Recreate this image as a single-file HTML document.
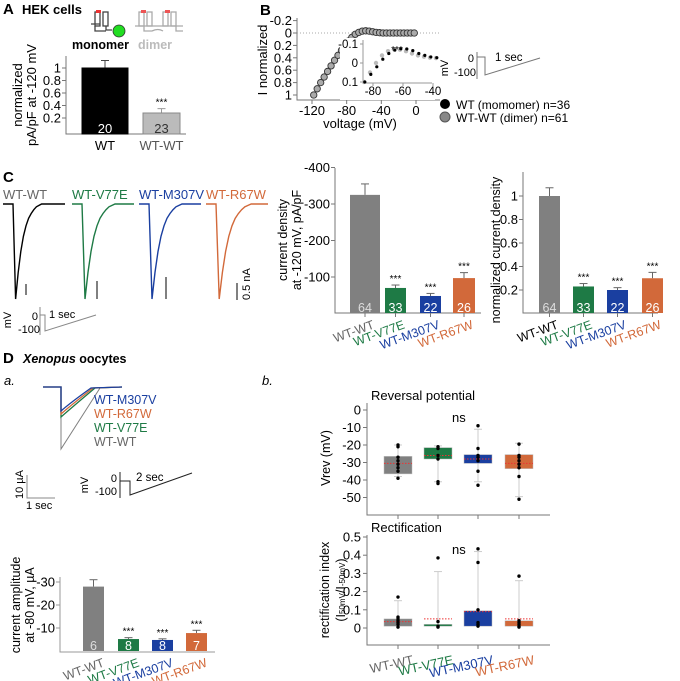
<!DOCTYPE html>
<html><head><meta charset="utf-8">
<style>
html,body{margin:0;padding:0;background:#fff;}
svg{display:block;font-family:"Liberation Sans",Arial,sans-serif;}
</style></head>
<body>
<svg id="fig" width="680" height="681" viewBox="0 0 680 681" xmlns="http://www.w3.org/2000/svg">
<text x="3" y="14" font-size="15" font-weight="bold">A</text>
<text x="22" y="14" font-size="13" font-weight="bold">HEK cells</text>
<text x="260" y="15" font-size="15" font-weight="bold">B</text>
<text x="3" y="182" font-size="15" font-weight="bold">C</text>
<text x="3" y="363" font-size="15" font-weight="bold">D</text>
<text x="23" y="363" font-size="12.5" font-weight="bold"><tspan font-style="italic">Xenopus</tspan> oocytes</text>
<text x="4" y="385" font-size="13" font-style="italic">a.</text>
<text x="262" y="385" font-size="13" font-style="italic">b.</text>

<g stroke="#444" fill="none" stroke-width="1.3">
  <rect x="95" y="12" width="5" height="14"/><rect x="103" y="12" width="5" height="14"/>
  <path d="M91 24 H100 M95 26 V31 H106 M106 26 V30 L112 30"/>
  <rect x="96" y="10" width="5" height="3" fill="#e33" stroke="none"/>
</g>
<circle cx="119" cy="31" r="6" fill="#22dd22" stroke="#333" stroke-width="0.8"/>
<g stroke="#aaa" fill="none" stroke-width="1.3">
  <rect x="139" y="12" width="5" height="14"/><rect x="147" y="12" width="5" height="14"/>
  <rect x="163" y="12" width="5" height="14"/><rect x="171" y="12" width="5" height="14"/>
  <path d="M135 26 H183 M144 26 V31 H152 M152 31 Q158 28 163 31 M176 26 V31 H183"/>
  <rect x="141" y="10" width="5" height="3" fill="#e55" stroke="none"/><rect x="165" y="10" width="5" height="3" fill="#e55" stroke="none"/>
</g>
<text x="72" y="49" font-size="12.5" font-weight="bold">monomer</text>
<text x="138" y="49" font-size="12.5" font-weight="bold" fill="#bbb">dimer</text>

<circle cx="445" cy="104" r="5" fill="#000"/>
<text x="456" y="109" font-size="12">WT (momomer) n=36</text>
<circle cx="445" cy="117" r="5" fill="#888" stroke="#555"/>
<text x="456" y="122" font-size="12">WT-WT (dimer) n=61</text>

<g>
<text x="448" y="68" font-size="11" transform="rotate(-90 448 68)" text-anchor="middle">mV</text>
<text x="474" y="62" font-size="11" text-anchor="end">0</text>
<text x="476" y="76" font-size="11" text-anchor="end">-100</text>
<path d="M477 52 V79 M477 57 H485 V75 L540 58" stroke="#777" fill="none"/>
<text x="495" y="61" font-size="11.5">1 sec</text>
</g>

<g>
<text x="11" y="320" font-size="11" transform="rotate(-90 11 320)" text-anchor="middle">mV</text>
<text x="38" y="320" font-size="11" text-anchor="end">0</text>
<text x="40" y="333" font-size="11" text-anchor="end">-100</text>
<path d="M40 307 V335 M40 315 H45 V331 L96 315" stroke="#888" fill="none"/>
<text x="49" y="318" font-size="11">1 sec</text>
</g>
<text x="250" y="300" font-size="11" transform="rotate(-90 250 300)">0.5 nA</text>
<path d="M237 283 V300" stroke="#000"/>

<g>
<text x="88" y="485" font-size="11" transform="rotate(-90 88 485)" text-anchor="middle">mV</text>
<text x="117" y="482" font-size="11" text-anchor="end">0</text>
<text x="117" y="495" font-size="11" text-anchor="end">-100</text>
<path d="M120 472 V498 M120 481 H130 V495 L192 473" stroke="#222" fill="none"/>
<text x="136" y="481" font-size="11.5">2 sec</text>
<path d="M27 475 V498 H55" stroke="#888" fill="none"/>
<text x="23" y="499" font-size="11" transform="rotate(-90 23 499)">10 µA</text>
<text x="26" y="509" font-size="11">1 sec</text>
</g>
</svg>
<script>
const svg=document.getElementById('fig');
const NS='http://www.w3.org/2000/svg';
function mk(tag,attrs,name,parent){
  const el=document.createElementNS(NS,tag);
  for(const k in attrs) el.setAttribute(k,attrs[k]);
  
  
  (parent||svg).appendChild(el);return el;
}
function txt(x,y,s,size,name,extra){const t=mk('text',Object.assign({x:x,y:y,'font-size':size},extra||{}),name);t.textContent=s;return t;}
const GREY='#808080',GREEN='#1e7a45',BLUE='#1a3fa0',ORANGE='#d2693a';

// ===== A data =====
const aCats=['WT','WT-WT'];
const aVals=[1.0,0.28];
const aErr=[0.12,0.07];
const aN=['20','23'];
const aTicks=[0.2,0.4,0.6,0.8,1];
// ===== B data =====
const bV=[-118,-114,-110,-106,-102,-98,-94,-90,-86,-82,-78,-74,-70,-66,-62,-58,-54,-50,-46,-42,-38,-34,-30,-26,-22,-18,-14,-10,-6,-2];
const bI=[1.0,0.9,0.8,0.71,0.62,0.53,0.44,0.36,0.28,0.2,0.13,0.07,0.02,-0.01,-0.03,-0.035,-0.03,-0.02,-0.01,-0.005,0,0,0,0,0,0,0,0,0,0];
const bYTicks=[-0.2,0,0.2,0.4,0.6,0.8,1];
const bXTicks=[-120,-80,-40,0];
const insV=[-86,-82,-78,-74,-70,-66,-62,-58,-54,-50,-46,-42,-38];
const insWT=[0.1,0.06,0.02,-0.02,-0.05,-0.068,-0.075,-0.074,-0.065,-0.05,-0.04,-0.032,-0.028];
const insDimer=[0.1,0.05,0.0,-0.04,-0.062,-0.072,-0.07,-0.062,-0.05,-0.04,-0.033,-0.028,-0.026];
const insXTicks=[-80,-60,-40];
const insYTicks=[-0.1,0,0.1];
// ===== C data =====
const cCats=['WT-WT','WT-V77E','WT-M307V','WT-R67W'];
const cColors=[GREY,GREEN,BLUE,ORANGE];
const cDensity=[-325,-70,-48,-97];
const cDensErr=[-30,-8,-7,-15];
const cNorm=[1.0,0.23,0.2,0.3];
const cNormErr=[0.07,0.025,0.02,0.05];
const cN=['64','33','22','26'];
const cDensTicks=[-100,-200,-300,-400];
const cNormTicks=[0.2,0.4,0.6,0.8,1];
const traceDecay=[0,1,0.72,0.5,0.34,0.23,0.15,0.1,0.06,0.03,0.015,0,0,0];
// ===== D data =====
const dAmp=[-28,-5.2,-4.8,-7.8];
const dAmpErr=[-3,-0.6,-0.5,-1.2];
const dN=['6','8','8','7'];
const dTicks=[-10,-20,-30];
const revQ1=[-26.5,-21.5,-25.5,-25.5];
const revQ3=[-36.5,-28,-30.5,-33.5];
const revMean=[-30.5,-26,-28,-30.5];
const revWhiskHi=[-20,-20.5,-11,-19];
const revWhiskLo=[-38,-41,-41,-49.5];
const revPts=[[-20,-21,-27,-29,-31,-33,-35,-39],[-21,-22,-26,-28,-41,-42],[-9,-22,-26,-27,-29,-35,-43],[-19.5,-26,-27,-29,-31,-33,-38,-51]];
const revTicks=[0,-10,-20,-30,-40,-50];
const recQ1=[0.05,0.02,0.095,0.04];
const recQ3=[0.01,0.01,0.01,0.01];
const recMean=[0.035,0.05,0.09,0.05];
const recWhiskHi=[0.15,0.31,0.42,0.26];
const recPts=[[0.005,0.02,0.03,0.04,0.05,0.06,0.17],[0.005,0.01,0.035,0.385],[0.01,0.02,0.03,0.1,0.36,0.435],[0.005,0.01,0.02,0.03,0.04,0.285]];
const recTicks=[0,0.1,0.2,0.3,0.4,0.5];

function lin(d0,d1,r0,r1){return v=>r0+(v-d0)*(r1-r0)/(d1-d0);}

// ===== Panel A =====
(function(){
  const y=lin(0,1,130.5,68);
  mk('path',{d:'M66 56 V134 H186',stroke:'#777',fill:'none'},'a-axes');
  aTicks.forEach(t=>{mk('line',{x1:62,x2:66,y1:y(t),y2:y(t),stroke:'#777'},'a-y-tick');
    txt(61,y(t)+4.5,String(t),13,'a-y-tick-label',{'text-anchor':'end'});});
  const xs=[[82,128],[143,180]];
  aVals.forEach((v,i)=>{
    const col=i==0?'#000':'#bbb';
    const cx=(xs[i][0]+xs[i][1])/2;
    mk('line',{x1:cx,x2:cx,y1:y(v),y2:y(v+aErr[i]),stroke:i==0?'#444':'#999'},'a-error-bar');
    mk('line',{x1:cx-4,x2:cx+4,y1:y(v+aErr[i]),y2:y(v+aErr[i]),stroke:i==0?'#444':'#999'},'a-error-cap');
    mk('rect',{x:xs[i][0],y:y(v),width:xs[i][1]-xs[i][0],height:134-y(v),fill:col,stroke:i==0?'#000':'#888'},'a-bar-'+aCats[i].toLowerCase());
    txt(cx,133,aN[i],13,'a-bar-n',{'text-anchor':'middle',fill:i==0?'#fff':'#333'});
    txt(cx,150,aCats[i],13,'a-x-label',{'text-anchor':'middle',fill:i==0?'#000':'#555'});
  });
  txt((xs[1][0]+xs[1][1])/2,y(aVals[1]+aErr[1])-3,'***',10,'a-signif',{'text-anchor':'middle'});
  txt(22,95,'normalized',13,'a-y-title-1',{transform:'rotate(-90 22 95)','text-anchor':'middle'});
  txt(36,95,'pA/pF at -120 mV',13,'a-y-title-2',{transform:'rotate(-90 36 95)','text-anchor':'middle'});
})();

// ===== Panel B =====
(function(){
  const x=lin(-120,0,312,416), y=lin(0,1,33,95);
  mk('path',{d:'M297 18 V100 H440',stroke:'#777',fill:'none'},'b-axes');
  mk('line',{x1:297,x2:440,y1:y(0),y2:y(0),stroke:'#aaa','stroke-dasharray':'1 2'},'b-zero-line');
  bYTicks.forEach(t=>{mk('line',{x1:293,x2:297,y1:y(t),y2:y(t),stroke:'#777'},'b-y-tick');
    txt(292,y(t)+4.5,t===0?'0':String(t),13,'b-y-tick-label',{'text-anchor':'end'});});
  bXTicks.forEach(t=>{mk('line',{x1:x(t),x2:x(t),y1:100,y2:104,stroke:'#777'},'b-x-tick');
    txt(x(t),115,String(t),13,'b-x-tick-label',{'text-anchor':'middle'});});
  txt(360,128,'voltage (mV)',13,'b-x-title',{'text-anchor':'middle'});
  txt(267,60,'I normalized',13,'b-y-title',{transform:'rotate(-90 267 60)','text-anchor':'middle'});
  bV.forEach((v,i)=>mk('circle',{cx:x(v),cy:y(bI[i]),r:3.2,fill:'#aaa',stroke:'#333','stroke-width':0.9},'b-iv-point'));
  const ix=lin(-80,-60,373,403), iy=lin(-0.1,0.1,44,82);
  mk('rect',{x:340,y:38,width:95,height:62,fill:'#fff'},'b-inset-bg');
  mk('path',{d:'M363 40 V83 H432',stroke:'#999',fill:'none'},'b-inset-axes');
  insYTicks.forEach(t=>{mk('line',{x1:360,x2:363,y1:iy(t),y2:iy(t),stroke:'#999'},'b-inset-y-tick');
    txt(358,iy(t)+4,String(t),11.5,'b-inset-y-label',{'text-anchor':'end'});});
  insXTicks.forEach(t=>{mk('line',{x1:ix(t),x2:ix(t),y1:83,y2:86,stroke:'#999'},'b-inset-x-tick');
    txt(ix(t),95,String(t),11.5,'b-inset-x-label',{'text-anchor':'middle'});});
  insV.forEach((v,i)=>mk('circle',{cx:ix(v),cy:iy(insDimer[i]),r:2.2,fill:'#bbb'},'b-inset-dimer-point'));
  insV.forEach((v,i)=>mk('circle',{cx:ix(v)+0.8,cy:iy(insWT[i]),r:1.6,fill:'#000'},'b-inset-wt-point'));
  txt(397,53,'***',10,'b-inset-signif',{'text-anchor':'middle'});
})();

// ===== Panel C traces =====
(function(){
  const x0=[3,72,139,206];
  cCats.forEach((c,i)=>{
    txt(x0[i],199,c,13,'c-trace-label',{fill:cColors[i]==GREY?'#666':cColors[i]});
    const base=204,peak=299, sx=x0[i]+10, step=[2.6,3.0,3.0,3.2][i];
    let d='M'+(x0[i])+' '+base+' H'+sx;
    traceDecay.forEach((a,k)=>{d+=' L'+(sx+k*step).toFixed(1)+' '+(base+a*(peak-base)).toFixed(1);});
    d+=' H'+(x0[i]+62);
    mk('path',{d:d,stroke:i==0?'#000':cColors[i],fill:'none','stroke-width':1.4},'c-trace-'+c.toLowerCase());
    const sb=[[26,284,295],[97,281,299],[166,277,299]][i];
    if(sb) mk('line',{x1:sb[0],x2:sb[0],y1:sb[1],y2:sb[2],stroke:'#000'},'c-scale-bar');
  });
})();

function rotLabels(xs,yTop,name,firstBlack){
  cCats.forEach((c,i)=>txt(xs[i]+14,yTop,c,12.5,name,{'text-anchor':'end',fill:i==0?(firstBlack?'#000':'#666'):cColors[i],transform:'rotate(-20 '+(xs[i]+14)+' '+yTop+')'}));
}
(function(){
  const y=lin(0,-100,313.5,277);
  mk('path',{d:'M335 168 V313 H481',stroke:'#777',fill:'none'},'c1-axes');
  cDensTicks.forEach(t=>{mk('line',{x1:331,x2:335,y1:y(t),y2:y(t),stroke:'#777'},'c1-y-tick');
    txt(330,y(t)+4.5,String(t),13,'c1-y-tick-label',{'text-anchor':'end'});});
  const xs=[350,385,420,453], w=[30,21,21,22];
  cDensity.forEach((v,i)=>{
    const cx=xs[i]+w[i]/2;
    mk('line',{x1:cx,x2:cx,y1:y(v),y2:y(v+cDensErr[i]),stroke:'#666'},'c1-error');
    mk('line',{x1:cx-4,x2:cx+4,y1:y(v+cDensErr[i]),y2:y(v+cDensErr[i]),stroke:'#666'},'c1-error-cap');
    mk('rect',{x:xs[i],y:y(v),width:w[i],height:313-y(v),fill:cColors[i]},'c1-bar-'+cCats[i].toLowerCase());
    mk('line',{x1:cx,x2:cx,y1:313,y2:317,stroke:'#777'},'c1-x-tick');
    txt(cx,312,cN[i],12.5,'c1-bar-n',{'text-anchor':'middle',fill:i==0?'#ddd':'#fff'});
    if(i>0) txt(cx,y(v+cDensErr[i])-3,'***',10,'c1-signif',{'text-anchor':'middle'});
  });
  rotLabels(xs.map((x,i)=>x+w[i]/2-4),328,'c1-x-label',false);
  txt(287,240,'current density',12.5,'c1-y-title-1',{transform:'rotate(-90 287 240)','text-anchor':'middle'});
  txt(301,240,'at -120 mV, pA/pF',12.5,'c1-y-title-2',{transform:'rotate(-90 301 240)','text-anchor':'middle'});
})();
(function(){
  const y=lin(0,1,313.5,196);
  mk('path',{d:'M523 172 V313 H658',stroke:'#777',fill:'none'},'c2-axes');
  cNormTicks.forEach(t=>{mk('line',{x1:519,x2:523,y1:y(t),y2:y(t),stroke:'#777'},'c2-y-tick');
    txt(518,y(t)+4.5,String(t),13,'c2-y-tick-label',{'text-anchor':'end'});});
  const bx=[539,573,607,642];
  cNorm.forEach((v,i)=>{
    const cx=bx[i]+10.5;
    mk('line',{x1:cx,x2:cx,y1:y(v),y2:y(v+cNormErr[i]),stroke:'#666'},'c2-error');
    mk('line',{x1:cx-4,x2:cx+4,y1:y(v+cNormErr[i]),y2:y(v+cNormErr[i]),stroke:'#666'},'c2-error-cap');
    mk('rect',{x:bx[i],y:y(v),width:21,height:313-y(v),fill:cColors[i]},'c2-bar-'+cCats[i].toLowerCase());
    mk('line',{x1:cx,x2:cx,y1:313,y2:317,stroke:'#777'},'c2-x-tick');
    txt(cx,312,cN[i],12.5,'c2-bar-n',{'text-anchor':'middle',fill:i==0?'#ddd':'#fff'});
    if(i>0) txt(cx,y(v+cNormErr[i])-3,'***',10,'c2-signif',{'text-anchor':'middle'});
  });
  rotLabels(bx.map(x=>x+6),328,'c2-x-label',true);
  txt(500,250,'normalized current density',12.5,'c2-y-title',{transform:'rotate(-90 500 250)','text-anchor':'middle'});
})();

// ===== D-a traces =====
(function(){
  const order=[[GREY,449,100],[GREEN,417,95],[ORANGE,414,93],[BLUE,411,91]];
  order.forEach((o,i)=>{
    const d=i==0?'M61 387 V'+o[1]+' L'+o[2]+' 388':'M43 387 H61 V'+o[1]+' Q70 '+(o[1]-8)+' '+o[2]+' 388 L122 387';
    mk('path',{d:d,stroke:o[0],fill:'none','stroke-width':i==0?1:1.3},'da-trace');
  });
  const labs=[['WT-M307V',BLUE,404],['WT-R67W',ORANGE,418],['WT-V77E',GREEN,432],['WT-WT','#666',446]];
  labs.forEach(l=>txt(94,l[2],l[0],12.5,'da-legend-entry',{fill:l[1]}));
})();

(function(){
  const y=lin(0,-10,651,628);
  mk('path',{d:'M60 577 V652 H215',stroke:'#999',fill:'none'},'da-axes');
  dTicks.forEach(t=>{mk('line',{x1:56,x2:60,y1:y(t),y2:y(t),stroke:'#999'},'da-y-tick');
    txt(55,y(t)+4.5,String(t),13,'da-y-tick-label',{'text-anchor':'end'});});
  const bx=[83,118,152,186];
  dAmp.forEach((v,i)=>{
    const cx=bx[i]+10.5;
    mk('line',{x1:cx,x2:cx,y1:y(v),y2:y(v+dAmpErr[i]),stroke:'#666'},'da-error');
    mk('line',{x1:cx-4,x2:cx+4,y1:y(v+dAmpErr[i]),y2:y(v+dAmpErr[i]),stroke:'#666'},'da-error-cap');
    mk('rect',{x:bx[i],y:y(v),width:21,height:651-y(v),fill:cColors[i]},'da-bar-'+cCats[i].toLowerCase());
    txt(cx,650,dN[i],12.5,'da-bar-n',{'text-anchor':'middle',fill:i==0?'#ddd':'#fff'});
    if(i>0) txt(cx,y(v+dAmpErr[i])-3,'***',10,'da-signif',{'text-anchor':'middle'});
  });
  cCats.forEach((c,i)=>txt(bx[i]+22,666,c,12.5,'da-x-label',{'text-anchor':'end',fill:i==0?'#666':cColors[i],transform:'rotate(-20 '+(bx[i]+22)+' 666)'}));
  txt(20,605,'current  amplitude',12.5,'da-y-title-1',{transform:'rotate(-90 20 605)','text-anchor':'middle'});
  txt(34,605,'at -80 mV, µA',12.5,'da-y-title-2',{transform:'rotate(-90 34 605)','text-anchor':'middle'});
})();

const bxC=[398,438,478,519];
function boxPlot(y,q1,q3,mean,wh,wl,pts,pre){
  bxC.forEach((cx,i)=>{
    const lo=wl?wl[i]:Math.min(q1[i],q3[i]);
    mk('line',{x1:cx,x2:cx,y1:y(wh[i]),y2:y(lo),stroke:'#ccc'},pre+'-whisker');
    mk('line',{x1:cx-4,x2:cx+4,y1:y(wh[i]),y2:y(wh[i]),stroke:'#ccc'},pre+'-whisker-cap');
    if(wl) mk('line',{x1:cx-4,x2:cx+4,y1:y(wl[i]),y2:y(wl[i]),stroke:'#ccc'},pre+'-whisker-cap');
    const top=Math.min(y(q1[i]),y(q3[i])), h=Math.max(Math.abs(y(q1[i])-y(q3[i])),1.5);
    mk('rect',{x:cx-14,y:top,width:28,height:h,fill:cColors[i],stroke:'#bbb','stroke-width':0.5},pre+'-box-'+cCats[i].toLowerCase());
    mk('line',{x1:cx-14,x2:cx+14,y1:y(mean[i]),y2:y(mean[i]),stroke:'#e33','stroke-dasharray':'1.5 1.5'},pre+'-mean');
    pts[i].forEach(p=>mk('circle',{cx:cx,cy:y(p),r:1.7,fill:'#000'},pre+'-point'));
  });
}
(function(){
  const y=lin(0,-10,410,427.5);
  mk('path',{d:'M367 403 V515 H550',stroke:'#777',fill:'none'},'rev-axes');
  revTicks.forEach(t=>{mk('line',{x1:363,x2:367,y1:y(t),y2:y(t),stroke:'#777'},'rev-y-tick');
    txt(361,y(t)+4.5,String(t),13,'rev-y-tick-label',{'text-anchor':'end'});});
  bxC.forEach(cx=>mk('line',{x1:cx,x2:cx,y1:515,y2:519,stroke:'#777'},'rev-x-tick'));
  boxPlot(y,revQ1,revQ3,revMean,revWhiskHi,revWhiskLo,revPts,'rev');
  txt(371,400,'Reversal potential',13,'rev-title');
  txt(452,422,'ns',13,'rev-ns');
  txt(330,458,'Vrev (mV)',12.5,'rev-y-title',{transform:'rotate(-90 330 458)','text-anchor':'middle'});
})();
(function(){
  const y=lin(0,0.1,628,609.8);
  mk('path',{d:'M367 535 V645 H550',stroke:'#777',fill:'none'},'rec-axes');
  recTicks.forEach(t=>{mk('line',{x1:363,x2:367,y1:y(t),y2:y(t),stroke:'#777'},'rec-y-tick');
    txt(361,y(t)+4.5,String(t),13,'rec-y-tick-label',{'text-anchor':'end'});});
  bxC.forEach(cx=>mk('line',{x1:cx,x2:cx,y1:645,y2:649,stroke:'#777'},'rec-x-tick'));
  boxPlot(y,recQ1,recQ3,recMean,recWhiskHi,null,recPts,'rec');
  txt(371,532,'Rectification',13,'rec-title');
  txt(452,554,'ns',13,'rec-ns');
  txt(329,590,'rectification index',12.5,'rec-y-title-1',{transform:'rotate(-90 329 590)','text-anchor':'middle'});
  const t=txt(345,590,'',12.5,'rec-y-title-2',{transform:'rotate(-90 345 590)','text-anchor':'middle'});
  t.innerHTML='(I<tspan font-size="8">50mV</tspan>/I<tspan font-size="8">-50mV</tspan>)';
  cCats.forEach((c,i)=>txt(bxC[i]+16,664,c,13,'rec-x-label',{'text-anchor':'end',fill:i==0?'#666':cColors[i],transform:'rotate(-12 '+(bxC[i]+16)+' 664)'}));
})();
</script>
</body></html>
